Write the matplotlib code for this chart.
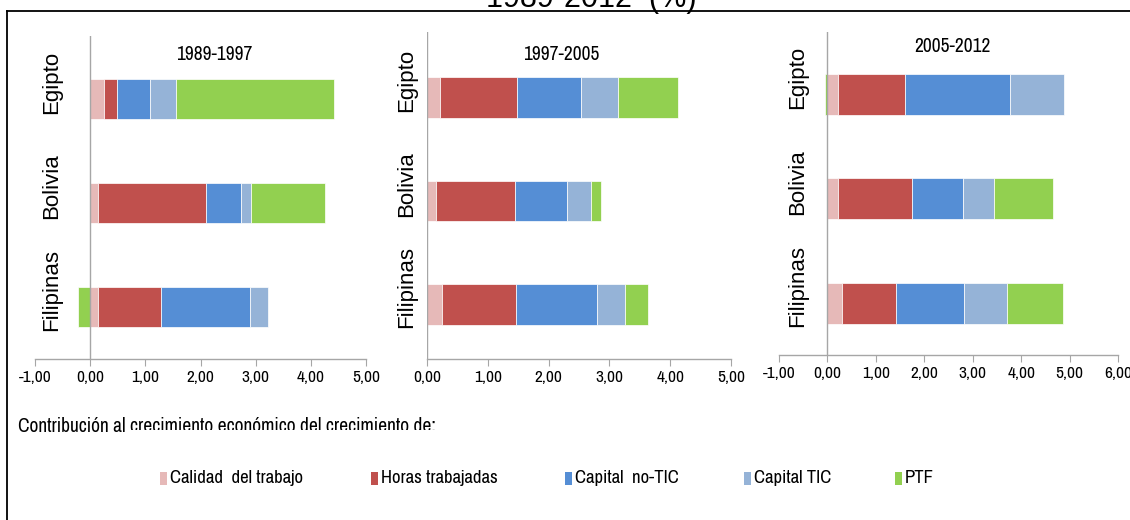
import os
import matplotlib
matplotlib.use("Agg")
import matplotlib.pyplot as plt
import matplotlib.transforms as mtransforms
from matplotlib import font_manager
from matplotlib.patches import Rectangle
from matplotlib.lines import Line2D

# ---- data -------------------------------------------------------------
periodos = ["1989-1997", "1997-2005", "2005-2012"]
paises = ["Egipto", "Bolivia", "Filipinas"]
componentes = ["Calidad  del trabajo", "Horas trabajadas", "Capital  no-TIC",
               "Capital TIC", "PTF"]
colores = ["#E6B9B8", "#C0504D", "#558ED5", "#95B3D7", "#92D050"]

# one list per period, values in the order of `paises`
calidad = [[0.25, 0.14, 0.14], [0.21, 0.14, 0.24], [0.21, 0.21, 0.30]]
horas = [[0.24, 1.96, 1.145], [1.275, 1.30, 1.23], [1.39, 1.54, 1.11]]
capital_no_tic = [[0.59, 0.64, 1.62], [1.05, 0.855, 1.33], [2.16, 1.04, 1.41]]
capital_tic = [[0.48, 0.17, 0.32], [0.60, 0.41, 0.46], [1.12, 0.645, 0.89]]
ptf = [[2.86, 1.35, -0.22], [1.00, 0.165, 0.375], [-0.06, 1.23, 1.16]]

rangos_x = [(-1, 5), (0, 5), (-1, 6)]

# ---- fonts --------------------------------------------------------------
plt.rcParams["font.family"] = ["Liberation Sans", "DejaVu Sans"]
_narrow = [f for f in font_manager.fontManager.ttflist
           if "narrow" in os.path.basename(f.fname).lower()
           and "bold" not in os.path.basename(f.fname).lower()
           and "italic" not in os.path.basename(f.fname).lower()]
if _narrow:
    NARROW = font_manager.FontProperties(fname=_narrow[0].fname)
    ESCALA = 1.0
else:
    NARROW = font_manager.FontProperties(family="Liberation Sans")
    ESCALA = 0.84


def fp(size):
    p = NARROW.copy()
    p.set_size(size * ESCALA)
    return p


W, H = 1130, 520
fig = plt.figure(figsize=(W / 100, H / 100), dpi=100)


def fx(px):
    return px / W


def fy(py):
    return 1 - py / H


# axes boxes in pixels: left, right, top, bottom, and y-limits
cajas = [
    (35, 366, 36, 359, (-0.50, 2.606)),
    (427, 731, 32, 359, (-0.527, 2.633)),
    (779, 1118, 32, 355, (-0.496, 2.595)),
]
titulos_pos = [(214, 55), (561, 55), (952, 47)]
etiquetas_x = [52, 407, 798]
GRIS = "#A6A6A6"

series = [calidad, horas, capital_no_tic, capital_tic, ptf]

for k, periodo in enumerate(periodos):
    l, r, t, b, ylim = cajas[k]
    ax = fig.add_axes([fx(l), fy(b), (r - l) / W, (b - t) / H])
    n = len(paises)
    ypos = [n - 1 - i for i in range(n)]  # Egipto on top
    pos_left = [0.0] * n
    neg_left = [0.0] * n
    for serie, color in zip(series, colores):
        vals = serie[k]
        lefts = []
        for i, v in enumerate(vals):
            if v >= 0:
                lefts.append(pos_left[i])
                pos_left[i] += v
            else:
                lefts.append(neg_left[i])
                neg_left[i] += v
        ax.barh(ypos, vals, left=lefts, height=0.39, color=color,
                edgecolor="white", linewidth=0.5, zorder=2)

    x0, x1 = rangos_x[k]
    ax.set_xlim(x0, x1)
    ax.set_ylim(*ylim)
    ax.axvline(0, color=GRIS, lw=1.0, zorder=3)
    for s in ("top", "right", "left"):
        ax.spines[s].set_visible(False)
    ax.spines["bottom"].set_color(GRIS)
    ax.spines["bottom"].set_linewidth(1.0)
    ticks = list(range(x0, x1 + 1))
    ax.set_xticks(ticks)
    ax.set_xticklabels([f"{v:.2f}".replace(".", ",") for v in ticks],
                       fontproperties=fp(12.5))
    ax.tick_params(axis="x", direction="out", length=5, color=GRIS, pad=3.0)
    ax.set_yticks([])
    ax.patch.set_alpha(0)

    fig.text(fx(titulos_pos[k][0]), fy(titulos_pos[k][1]), periodo,
             ha="center", va="center", fontproperties=fp(14))

    trans = mtransforms.offset_copy(
        mtransforms.blended_transform_factory(fig.transFigure, ax.transData),
        fig=fig, y=17, units="dots")
    for i, pais in enumerate(paises):
        fig.text(fx(etiquetas_x[k]), ypos[i], pais, rotation=90,
                 ha="center", va="center", fontsize=16, transform=trans)

# heading (partly outside the canvas)
fig.text(fx(591), fy(7), "1989-2012  (%)", ha="center", va="baseline",
         fontsize=22)

# frame lines
fig.add_artist(Line2D([fx(7), 1.0], [fy(11), fy(11)], color="black", lw=1.3))
fig.add_artist(Line2D([fx(7), fx(7)], [fy(11), 0.0], color="black", lw=1.3))

# caption above the legend
fig.text(fx(18), fy(432), "Contribución al crecimiento económico del crecimiento de:",
         ha="left", va="baseline", fontproperties=fp(14))
fig.add_artist(Rectangle((fx(125), fy(446)), (470 - 125) / W, (446 - 429.5) / H,
                         transform=fig.transFigure, facecolor="white",
                         edgecolor="none", zorder=10))

# legend
ley_rect_x = [160, 371, 565, 744, 895]
for xr, nombre, color in zip(ley_rect_x, componentes, colores):
    fig.add_artist(Rectangle((fx(xr), fy(484.5)), 7 / W, 13 / H,
                             transform=fig.transFigure, facecolor=color,
                             edgecolor="none"))
    fig.text(fx(xr + 10), fy(478), nombre, ha="left", va="center",
             fontproperties=fp(13.5))

fig.savefig("out.png", dpi=100)
